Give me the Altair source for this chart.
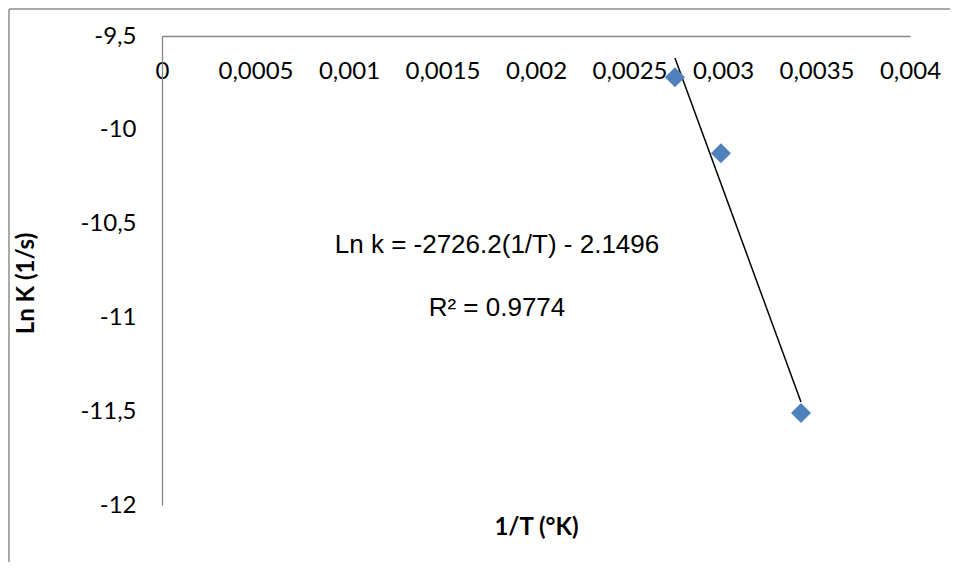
import altair as alt
import pandas as pd

# Data
inv_T = [0.002743, 0.002989, 0.003417]
ln_k = [-9.72, -10.125, -11.51]
x_ticks = [0, 0.0005, 0.001, 0.0015, 0.002, 0.0025, 0.003, 0.0035, 0.004]
y_ticks = [-12, -11.5, -11, -10.5, -10, -9.5]
equation_text = ["Ln k = -2726.2(1/T) - 2.1496"]
r2_text = ["R² = 0.9774"]

df = pd.DataFrame({"x": inv_T, "y": ln_k})

W, H = 748, 469
GRAY = "#868686"

xscale = alt.Scale(domain=[0, 0.004], nice=False, zero=False)
yscale = alt.Scale(domain=[-12, -9.5], nice=False, zero=False)

x_axis = alt.Axis(
    orient="bottom", offset=-H, values=x_ticks,
    labelExpr="replace(toString(datum.value), '.', ',')",
    ticks=False, tickSize=0, grid=False, domainColor=GRAY, domainWidth=1.3,
    labelFont="Lato", labelFontSize=24, labelColor="#000000", labelPadding=23,
    labelBaseline="top", labelFlush=False, labelOverlap=False, labelBound=False,
    title="1/T (°K)", titleFont="Lato", titleFontSize=24, titleFontWeight="bold",
    titleColor="#000000", titleY=491, titleBaseline="middle",
)
y_axis = alt.Axis(
    values=y_ticks,
    labelExpr="replace(toString(datum.value), '.', ',')",
    ticks=False, tickSize=0, grid=False, domainColor=GRAY, domainWidth=1.3,
    labelFont="Lato", labelFontSize=24, labelColor="#000000", labelPadding=26,
    labelFlush=False, labelOverlap=False, labelBound=False,
    title="Ln K (1/s)", titleFont="Lato", titleFontSize=24, titleFontWeight="bold",
    titleColor="#000000", titleX=-136, titleY=247, titleAngle=270,
    titleBaseline="middle", titleAlign="center",
)

base = alt.Chart(df)

points = base.mark_point(shape="diamond", filled=True, size=400, color="#4F81BD", opacity=1).encode(
    x=alt.X("x:Q", scale=xscale, axis=x_axis),
    y=alt.Y("y:Q", scale=yscale, axis=y_axis),
)

trend = base.transform_regression("x", "y").mark_line(color="#000000", strokeWidth=1.5).encode(
    x=alt.X("x:Q", scale=xscale),
    y=alt.Y("y:Q", scale=yscale),
)

eq = alt.Chart(pd.DataFrame({"t": equation_text})).mark_text(
    font="Liberation Sans", fontSize=26, color="#000000", align="center", baseline="middle"
).encode(text="t:N", x=alt.value(335), y=alt.value(209))

r2 = alt.Chart(pd.DataFrame({"t": r2_text})).mark_text(
    font="Liberation Sans", fontSize=26, color="#000000", align="center", baseline="middle"
).encode(text="t:N", x=alt.value(335), y=alt.value(272))

border_left = alt.Chart(pd.DataFrame({"a": [0]})).mark_rule(color="#8C8C8C", strokeWidth=1.5).encode(
    x=alt.value(-153), y=alt.value(-27), y2=alt.value(H + 80)
)
border_top = alt.Chart(pd.DataFrame({"a": [0]})).mark_rule(color="#8C8C8C", strokeWidth=1.5).encode(
    x=alt.value(-153), x2=alt.value(W + 80), y=alt.value(-27)
)

chart = alt.layer(border_left, border_top, trend, points, eq, r2).properties(
    width=W, height=H,
    autosize="none",
    padding={"left": 154, "top": 28, "right": 40, "bottom": 57},
).configure(background="white").configure_view(strokeWidth=0, stroke="transparent")

chart.save("out.html", embed_options={"renderer": "svg", "actions": False})
